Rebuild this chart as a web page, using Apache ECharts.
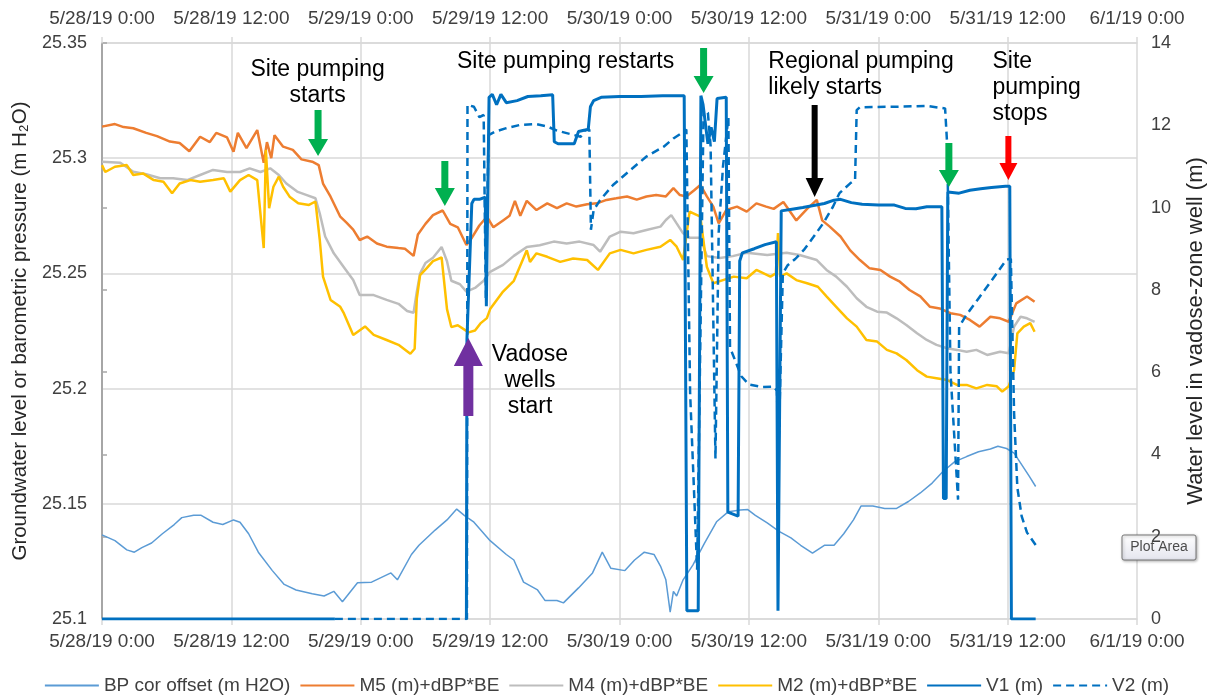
<!DOCTYPE html>
<html>
<head>
<meta charset="utf-8">
<script src="https://cdn.jsdelivr.net/npm/echarts@6/dist/echarts.min.js"></script>
<style>
html, body { margin: 0; padding: 0; background: #fff; }
#chart { width: 1213px; height: 698px; }
</style>
</head>
<body>
<div id="chart"></div>
<script>
// hours since 5/28/19 0:00 -> value
var xLabels = ['5/28/19 0:00', '5/28/19 12:00', '5/29/19 0:00', '5/29/19 12:00', '5/30/19 0:00',
	'5/30/19 12:00', '5/31/19 0:00', '5/31/19 12:00', '6/1/19 0:00'];

var bp = [[0,25.1365],[1.2,25.134],[2.3,25.130],[3,25.129],[3.7,25.131],[4.6,25.133],[5.6,25.137],[6.7,25.141],[7.4,25.144],[8.5,25.145],[9.2,25.145],[10.3,25.142],[11.2,25.141],[12.2,25.143],[12.8,25.142],[13.6,25.137],[14.5,25.129],[15.8,25.121],[16.9,25.115],[18,25.1126],[19.5,25.111],[20.6,25.110],[21.5,25.112],[22.3,25.1075],[23.7,25.1157],[25,25.116],[26.8,25.120],[27.4,25.117],[28.7,25.128],[29.4,25.132],[30.9,25.1386],[32,25.143],[32.9,25.1477],[33.6,25.145],[34.5,25.142],[36,25.134],[37.5,25.128],[38.2,25.1256],[39.1,25.116],[40.4,25.1126],[41.1,25.108],[42.2,25.108],[42.8,25.107],[44.2,25.1135],[45.5,25.120],[46.4,25.129],[47.2,25.122],[48.5,25.121],[49.4,25.1256],[50.3,25.129],[51.2,25.128],[51.8,25.123],[52.3,25.117],[52.7,25.103],[53,25.112],[53.3,25.110],[53.9,25.117],[54.8,25.1234],[55.9,25.133],[57,25.1422],[58.1,25.1466],[59.2,25.1473],[59.9,25.1475],[60.6,25.145],[61.7,25.1417],[62.8,25.138],[63.9,25.1352],[64.8,25.132],[65.9,25.1286],[67,25.132],[67.9,25.132],[68.8,25.137],[69.7,25.143],[70.4,25.149],[71.5,25.149],[72.6,25.148],[73.7,25.148],[74.8,25.151],[75.9,25.1547],[77,25.159],[78,25.164],[79.1,25.1683],[80.2,25.1705],[81.3,25.1726],[82.4,25.1738],[83.1,25.175],[83.9,25.174],[84.6,25.172],[85.3,25.167],[86,25.162],[86.6,25.1575]];

var m5 = [[0,25.3137],[1.2,25.3148],[2.0,25.3135],[2.9,25.313],[4.1,25.311],[5.1,25.3096],[6.3,25.3072],[7.2,25.3066],[8.1,25.303],[9.1,25.3093],[10,25.307],[10.6,25.311],[11.6,25.309],[12.2,25.3028],[12.6,25.311],[13.4,25.3044],[14.4,25.3122],[15,25.298],[15.3,25.307],[15.7,25.300],[16,25.310],[16.8,25.305],[17.7,25.3036],[18.5,25.2995],[19.5,25.2985],[20.1,25.297],[20.5,25.289],[21.2,25.2833],[22.1,25.2746],[22.7,25.2719],[23.3,25.269],[23.9,25.2645],[24.6,25.266],[25.5,25.263],[26.4,25.2616],[27.5,25.261],[28.1,25.2607],[28.9,25.2576],[29.3,25.2669],[30,25.2715],[30.7,25.2753],[31.6,25.2773],[32.3,25.2715],[33,25.27],[33.8,25.2623],[34.3,25.2654],[35,25.2708],[35.7,25.2746],[36.3,25.270],[37.2,25.273],[37.8,25.275],[38.3,25.2815],[38.8,25.275],[39.4,25.2815],[40.3,25.2775],[41.3,25.2804],[42.2,25.2783],[43.1,25.2804],[44,25.279],[45,25.280],[45.9,25.2804],[46.8,25.2819],[47.7,25.2826],[48.7,25.2834],[49.6,25.282],[50.5,25.2834],[51.4,25.284],[52.3,25.2834],[53,25.287],[53.6,25.284],[54.2,25.2834],[54.9,25.286],[55.5,25.2884],[56.1,25.2834],[56.7,25.279],[57.2,25.2717],[57.9,25.2775],[58.9,25.279],[59.8,25.2768],[60.7,25.2804],[61.6,25.279],[62.3,25.278],[63.2,25.281],[64.4,25.273],[65.4,25.278],[66.3,25.2819],[66.8,25.273],[67.5,25.2703],[68.5,25.266],[69.4,25.260],[70.3,25.2558],[71.2,25.2522],[72.2,25.2515],[73.1,25.2486],[74,25.2464],[74.9,25.2428],[75.9,25.240],[76.8,25.2355],[77.7,25.2348],[78.7,25.2327],[79.6,25.232],[80.5,25.2298],[81.4,25.2269],[82.4,25.2312],[83.3,25.2305],[84.1,25.229],[84.8,25.237],[85.8,25.240],[86.5,25.2377]];

var m4 = [[0,25.2985],[1.7,25.298],[2.9,25.2941],[4.1,25.293],[5.4,25.2913],[6.6,25.2913],[7.9,25.2905],[9.1,25.2927],[10.3,25.2949],[11.6,25.294],[12.8,25.294],[13.7,25.2956],[14.7,25.294],[15.6,25.2956],[16.4,25.2927],[17.1,25.289],[18.1,25.2855],[19,25.284],[19.8,25.2826],[20.2,25.276],[20.7,25.266],[21.5,25.2587],[22.4,25.2529],[23.3,25.2471],[23.9,25.2406],[25.2,25.2406],[26.4,25.2385],[27.5,25.2368],[28.3,25.2337],[28.9,25.2329],[29.2,25.2421],[29.5,25.2499],[30,25.2545],[30.7,25.2568],[31.5,25.2615],[32,25.2553],[32.4,25.2468],[33.2,25.2453],[33.8,25.2421],[34.6,25.2437],[35.4,25.2468],[36,25.2507],[37.2,25.2537],[38.2,25.2576],[39.4,25.2615],[40.6,25.2622],[41.9,25.2638],[43.1,25.263],[44.3,25.2638],[45.6,25.2623],[46.2,25.2594],[47.1,25.266],[48.1,25.2681],[49.3,25.2674],[50.5,25.2688],[51.8,25.2703],[52.3,25.2732],[52.8,25.2753],[53.3,25.2717],[53.9,25.2674],[54.5,25.2655],[55.5,25.2655],[56.1,25.2575],[57.3,25.2567],[58.5,25.2575],[59.8,25.259],[61.7,25.258],[63.5,25.259],[64.7,25.258],[66.3,25.2558],[67.2,25.2515],[68.1,25.2486],[69.1,25.2442],[70,25.2392],[70.9,25.2355],[71.9,25.2334],[72.8,25.233],[73.7,25.2305],[74.6,25.2276],[75.6,25.224],[76.5,25.2211],[77.4,25.219],[78.4,25.2175],[79.3,25.2168],[80.2,25.216],[81.1,25.2168],[82.1,25.2146],[83.3,25.216],[84.1,25.2153],[84.6,25.2269],[85.2,25.2312],[85.8,25.2305],[86.5,25.229]];

var m2 = [[0,25.297],[0.3,25.294],[1.2,25.2963],[2.3,25.297],[2.9,25.2927],[3.8,25.2934],[4.8,25.2905],[5.7,25.2898],[6.5,25.2848],[7.2,25.289],[8.2,25.2905],[9.1,25.2898],[10.3,25.2905],[11.3,25.2913],[11.9,25.2855],[12.8,25.2905],[13.6,25.2927],[14.4,25.2905],[15,25.261],[15.2,25.3036],[15.5,25.2783],[15.9,25.2876],[16.4,25.292],[16.8,25.2876],[17.4,25.2833],[18.2,25.2804],[19.2,25.2797],[19.8,25.2812],[20.2,25.2645],[20.5,25.2486],[21.2,25.2385],[22.1,25.2355],[22.4,25.233],[23.3,25.2233],[24.4,25.227],[25.2,25.2233],[26.4,25.2211],[27.5,25.219],[28.6,25.2151],[29,25.2173],[29.2,25.2391],[29.5,25.2492],[30.1,25.2522],[30.7,25.2553],[31.5,25.2569],[32,25.2345],[32.4,25.2267],[33,25.2275],[34,25.2244],[34.6,25.2252],[35.1,25.2283],[35.7,25.2306],[36,25.2345],[36.6,25.2383],[37.2,25.2421],[38.2,25.2468],[38.9,25.2545],[39.4,25.26],[39.7,25.255],[40.3,25.2587],[41.3,25.2572],[42.5,25.255],[43.7,25.2565],[45,25.2558],[46,25.2515],[47.1,25.2587],[48.1,25.2602],[49.3,25.2587],[50.5,25.2602],[51.8,25.2616],[52.7,25.2645],[53.3,25.2616],[53.9,25.2558],[54.5,25.2768],[55.5,25.2746],[56.1,25.2529],[56.7,25.2457],[57.6,25.2471],[58.6,25.2486],[59.8,25.2479],[60.7,25.2515],[62,25.2486],[62.5,25.25],[62.7,25.2675],[62.9,25.2486],[63.5,25.25],[64.4,25.2471],[65.4,25.2457],[66.4,25.2442],[67.2,25.240],[68.1,25.2355],[69.1,25.2305],[70,25.2269],[70.9,25.2211],[71.9,25.2204],[72.8,25.2168],[73.7,25.2153],[74.6,25.2124],[75.6,25.208],[76.5,25.2052],[77.4,25.2045],[78.4,25.2037],[79.3,25.2016],[80.2,25.2016],[81.1,25.2001],[82.1,25.2016],[83,25.201],[83.5,25.1987],[84.1,25.201],[84.6,25.208],[84.9,25.224],[85.5,25.2269],[86.1,25.2284],[86.5,25.2247]];

var v1 = [[0,0],[21.6,0],[21.7,null],[33.8,0],[33.85,6.8],[34.3,10.1],[34.5,10.2],[35.0,10.2],[35.55,10.25],[35.65,7.6],[35.9,12.68],[36.2,12.75],[36.6,12.5],[37.0,12.75],[37.5,12.55],[38.5,12.6],[39.5,12.7],[40.7,12.72],[41.8,12.74],[41.95,11.6],[42.3,11.55],[43.8,11.55],[44.2,11.85],[44.7,11.88],[45.1,11.9],[45.3,12.45],[45.6,12.6],[46.3,12.68],[48,12.7],[50,12.7],[52,12.72],[54.0,12.72],[54.25,0.2],[55.3,0.2],[55.55,12.72],[55.75,12.5],[56.2,11.55],[56.5,11.95],[56.8,11.6],[57.05,12.65],[57.9,12.68],[58.05,2.6],[59.0,2.5],[59.15,8.7],[59.4,8.9],[60.5,9.0],[61.5,9.1],[62.55,9.17],[62.7,0.2],[63.0,9.92],[64,9.96],[65,10.0],[66,10.05],[67,10.1],[67.9,10.18],[68.5,10.2],[69.5,10.12],[70.5,10.08],[72,10.06],[73.5,10.06],[74.5,9.98],[75.5,9.97],[76.5,10.02],[77.9,10.02],[78.05,2.93],[78.3,2.93],[78.45,10.38],[79.5,10.35],[80.5,10.42],[81.5,10.46],[82.5,10.49],[83.8,10.52],[84.2,10.52],[84.35,0],[86.6,0]];

var v2 = [[21.6,0],[33.85,0],[33.9,12.5],[34.5,12.45],[35.0,12.2],[35.4,12.25],[35.6,7.8],[35.85,11.76],[36.5,11.85],[37.5,11.93],[38.8,12.01],[40.3,12.03],[41.3,11.97],[42.2,11.87],[43.4,11.79],[44.4,11.72],[44.8,11.88],[45.2,11.9],[45.35,9.46],[45.6,9.94],[46.2,10.18],[47.4,10.55],[49.0,10.91],[50.5,11.24],[52.1,11.48],[53.0,11.68],[54.0,11.85],[54.2,11.9],[54.55,5.5],[55.2,1.2],[55.35,1.2],[55.8,12.4],[56.2,12.3],[56.45,11.5],[56.9,3.9],[57.2,9.4],[57.6,11.0],[58.1,12.2],[58.25,6.6],[58.7,6.3],[59.3,5.9],[60.0,5.7],[61.2,5.64],[62.3,5.65],[62.6,5.55],[62.75,4.05],[63.15,8.4],[63.6,8.6],[64.3,8.75],[65.1,8.97],[66.0,9.29],[66.9,9.62],[67.8,10.02],[68.4,10.35],[69.4,10.59],[69.85,10.67],[70.0,12.37],[70.3,12.44],[73.4,12.45],[76.5,12.47],[78.2,12.41],[78.4,11.5],[78.7,6.0],[79.4,2.9],[79.5,7.1],[80.1,7.36],[81.3,7.79],[82.5,8.22],[83.9,8.74],[84.3,8.75],[84.6,5.0],[84.9,3.2],[85.3,2.5],[85.8,2.1],[86.6,1.8]];

// annotations, in axis units (hour, left-axis value)
var notes = [
	['Site pumping\nstarts', 20.0, 25.3383, 'center'],
	['Site pumping restarts', 43.0, 25.3418, 'center'],
	['Regional pumping\nlikely starts', 61.8, 25.3418, 'left'],
	['Site\npumping\nstops', 82.6, 25.3418, 'left'],
	['Vadose\nwells\nstart', 39.7, 25.2146, 'center']
];
// hour, tail, tip, colour, half shaft, half head, head length
var arrows = [
	[20.04, 25.3209, 25.3010, '#00b050', 3.5, 10, 17],
	[31.8, 25.2988, 25.2793, '#00b050', 3.5, 10, 18],
	[55.8, 25.3478, 25.3283, '#00b050', 3.5, 10, 17],
	[66.1, 25.3231, 25.2832, '#000000', 3, 9, 19],
	[78.55, 25.3066, 25.2875, '#00b050', 3.5, 10, 17],
	[84.07, 25.3096, 25.2905, '#ff0000', 3, 9, 17],
	[33.98, 25.1881, 25.2220, '#7030a0', 5, 14.5, 28]
];

var font = '"Liberation Sans", Arial, sans-serif';
var gridColor = '#d9d9d9';
var textColor = '#404040';

var chart = echarts.init(document.getElementById('chart'));

function xAxisCfg(pos) {
	return {
		type: 'value', position: pos, min: 0, max: 96, interval: 12,
		axisLine: { show: true, onZero: false, lineStyle: { color: gridColor, width: 1.5 } },
		axisTick: { show: true, length: 6, lineStyle: { color: gridColor, width: 1.5 } },
		axisLabel: {
			color: textColor, fontSize: 19, fontFamily: font, margin: pos === 'top' ? 15 : 13,
			showMinLabel: true, showMaxLabel: true,
			formatter: function (v) { return xLabels[Math.round(v / 12)] || ''; }
		},
		splitLine: { show: pos === 'bottom', lineStyle: { color: gridColor, width: 1.5 } }
	};
}

function line(name, data, color, width, yIdx, dash) {
	return {
		name: name, type: 'line', data: data, yAxisIndex: yIdx,
		showSymbol: false, symbol: 'none', connectNulls: false, animation: false,
		lineStyle: { color: color, width: width, type: dash || 'solid' },
		itemStyle: { color: color }
	};
}

var option = {
	animation: false,
	grid: { left: 102, right: 76, top: 43, bottom: 79, outerBoundsMode: 'none' },
	legend: {
		left: 'center', top: 671, itemWidth: 54, itemHeight: 3, itemGap: 9,
		itemStyle: { opacity: 0 },
		textStyle: { color: textColor, fontSize: 19, fontFamily: font },
		data: ['BP cor offset (m H2O)', 'M5 (m)+dBP*BE', 'M4 (m)+dBP*BE', 'M2 (m)+dBP*BE', 'V1 (m)', 'V2 (m)']
	},
	xAxis: [xAxisCfg('bottom'), xAxisCfg('top')],
	yAxis: [{
		type: 'value', min: 25.1, max: 25.35, interval: 0.05,
		name: 'Groundwater level or barometric pressure (m H\u2082O)',
		nameLocation: 'middle', nameGap: 70, nameRotate: 90,
		nameTextStyle: { color: '#262626', fontSize: 20.5, fontFamily: font },
		axisLine: { show: true, lineStyle: { color: gridColor, width: 1.5 } },
		axisTick: { show: false },
		axisLabel: { color: textColor, fontSize: 18, fontFamily: font, margin: 15 },
		splitLine: { show: true, lineStyle: { color: gridColor, width: 1.5 } }
	}, {
		type: 'value', min: 0, max: 14, interval: 2, position: 'right',
		name: 'Water level in vadose-zone well (m)',
		nameLocation: 'middle', nameGap: 48, nameRotate: 90,
		nameTextStyle: { color: '#262626', fontSize: 22, fontFamily: font },
		axisLine: { show: true, lineStyle: { color: '#a6a6a6', width: 2 } },
		axisTick: { show: true, length: 5, lineStyle: { color: '#a6a6a6', width: 1.5 } },
		axisLabel: { color: textColor, fontSize: 18, fontFamily: font, margin: 14 },
		splitLine: { show: false }
	}],
	series: [
		line('BP cor offset (m H2O)', bp, '#5b9bd5', 1.5, 0),
		line('M5 (m)+dBP*BE', m5, '#ed7d31', 2.5, 0),
		line('M4 (m)+dBP*BE', m4, '#bdbdbd', 2.5, 0),
		line('M2 (m)+dBP*BE', m2, '#ffc000', 2.5, 0),
		line('V1 (m)', v1, '#0070c0', 3, 1),
		line('V2 (m)', v2, '#0070c0', 2.5, 1, [8, 5])
	]
};

chart.setOption(option);

// annotations placed through the axes
var toPx = function (h, v) {
	return chart.convertToPixel({ xAxisIndex: 0, yAxisIndex: 0 }, [h, v]);
};
var elements = [];
arrows.forEach(function (a) {
	var p1 = toPx(a[0], a[1]);
	var p2 = toPx(a[0], a[2]);
	var x = p1[0], y1 = p1[1], y2 = p2[1];
	var d = y2 > y1 ? 1 : -1;
	var s = a[4], w = a[5], yb = y2 - d * a[6];
	elements.push({
		type: 'polygon', z: 100, silent: true,
		shape: { points: [[x - s, y1], [x + s, y1], [x + s, yb], [x + w, yb], [x, y2], [x - w, yb], [x - s, yb]] },
		style: { fill: a[3] }
	});
});
notes.forEach(function (n) {
	var p = toPx(n[1], n[2]);
	elements.push({
		type: 'text', z: 100, silent: true,
		style: {
			text: n[0], x: p[0], y: p[1] - 13, textAlign: n[3], textVerticalAlign: 'top',
			font: '23px ' + font, lineHeight: 26, fill: '#000'
		}
	});
});
// the Excel hover tip that was captured in the screenshot
elements.push({
	type: 'group', z: 120, x: 1122, y: 535,
	children: [{
		type: 'rect', shape: { x: 0, y: 0, width: 74, height: 25, r: 2 },
		style: {
			fill: new echarts.graphic.LinearGradient(0, 0, 0, 1, [{ offset: 0, color: '#ffffff' }, { offset: 1, color: '#e4e5ee' }]),
			stroke: '#767676', lineWidth: 1, shadowBlur: 3, shadowColor: 'rgba(0,0,0,0.3)', shadowOffsetX: 1, shadowOffsetY: 1
		}
	}, {
		type: 'text', style: { text: 'Plot Area', x: 37, y: 12.5, textAlign: 'center', textVerticalAlign: 'middle', font: '14px ' + font, fill: '#4c4c4c' }
	}]
});
chart.setOption({ graphic: elements });
</script>
</body>
</html>
